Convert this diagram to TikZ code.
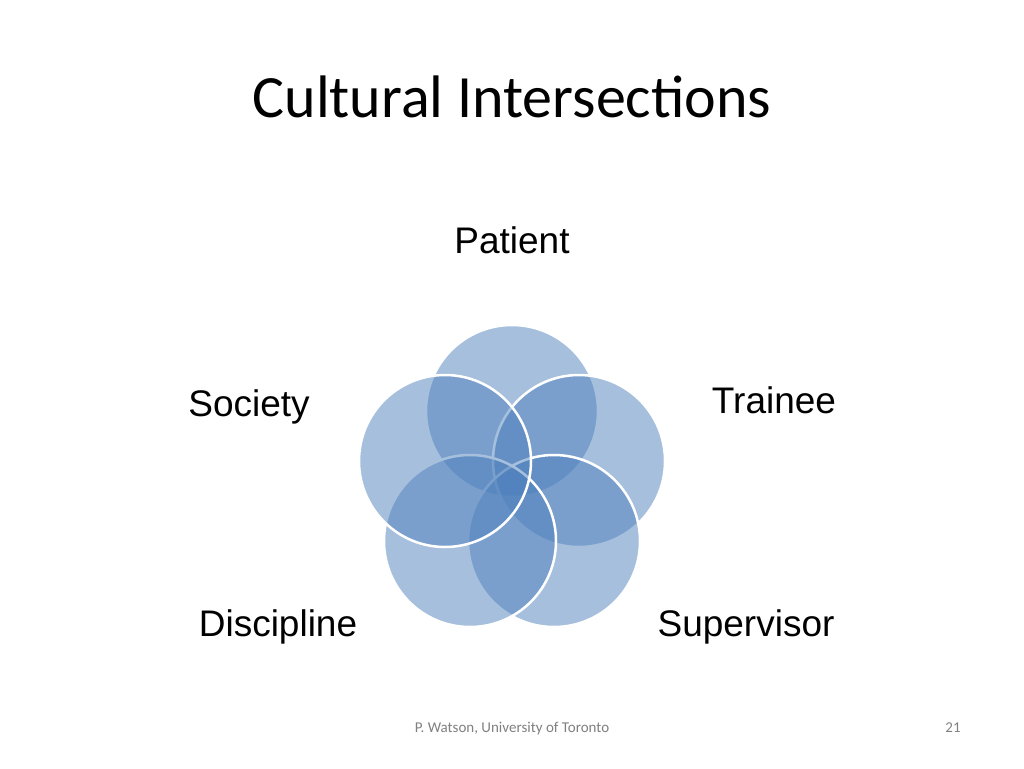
\documentclass[tikz,border=0pt]{standalone}
\usepackage{fontspec}
\setmainfont{Liberation Sans}
\newfontfamily\calfont{Carlito}
\definecolor{vb}{RGB}{79,129,189}
\begin{document}
\begin{tikzpicture}[x=1pt,y=-1pt,
  circ/.style={fill=vb,fill opacity=0.5,draw=white,draw opacity=1,line width=2.5pt},
  lab/.style={font=\fontsize{37}{40}\selectfont,anchor=base}]
\useasboundingbox (0,0) rectangle (1024,768);
\fill[white] (0,0) rectangle (1024,768);
\node[font=\calfont\fontsize{60}{64}\selectfont,anchor=base] (title) at (512,117) {Cultural Intersections};
\draw[circ] (512,411) circle (86);
\draw[circ] (579,461) circle (86);
\draw[circ] (554,541) circle (86);
\draw[circ] (470,541) circle (86);
\draw[circ] (445,461) circle (86);
\node[lab] (patient) at (512,253) {Patient};
\node[lab] (trainee) at (774,413) {Trainee};
\node[lab] (society) at (249,416) {Society};
\node[lab] (discipline) at (278,636) {Discipline};
\node[lab] (supervisor) at (746,636) {Supervisor};
\node[font=\calfont\fontsize{15}{18}\selectfont,text=gray,anchor=base] (foot) at (512,732) {P. Watson, University of Toronto};
\node[font=\calfont\fontsize{15}{18}\selectfont,text=gray,anchor=base] (num) at (953,732) {21};
\end{tikzpicture}
\end{document}
